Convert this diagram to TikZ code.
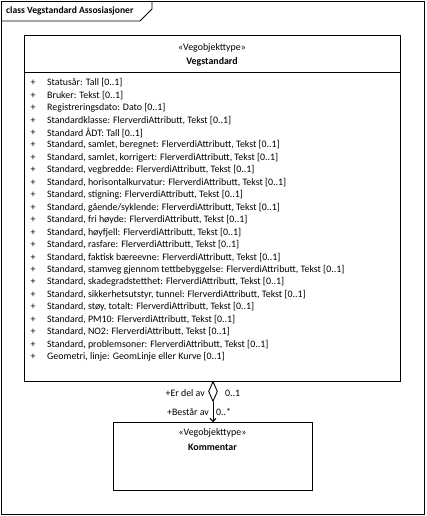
\documentclass[tikz,border=0pt]{standalone}
\usepackage{fontspec}
\setmainfont{Carlito}
\usetikzlibrary{arrows.meta,shapes.geometric}
\begin{document}
\begin{tikzpicture}[x=1pt,y=-1pt,
  frameline/.style={line width=0.9pt},
  attr/.style={anchor=west,inner sep=0pt,font=\fontsize{9.9}{11}\selectfont},
  plus/.style={anchor=center,inner sep=0pt,font=\fontsize{9.9}{11}\selectfont},
  hdr/.style={anchor=center,inner sep=0pt,font=\fontsize{9.9}{11}\selectfont},
  lbl/.style={inner sep=0pt,font=\fontsize{9.9}{11}\selectfont},
  classbox/.style={draw,line width=0.9pt,fill=white}]
\useasboundingbox (0,0) rectangle (426,516);
% outer frame
\draw[frameline] (1.5,1.5) rectangle (424,514.5);
\draw[frameline] (1.5,21) -- (140,21) -- (152,9) -- (152,1.5);
\node[lbl,anchor=west,font=\fontsize{9.6}{11}\selectfont\bfseries] (title) at (6,11) {class Vegstandard Assosiasjoner};
% main class
\draw[classbox] (24.5,35) rectangle (400,381);
\draw[frameline] (24.5,72) -- (400,72);
\coordinate (mainbottom) at (213,381);
\node[hdr] (st1) at (212,48) {«Vegobjekttype»};
\node[hdr,font=\fontsize{9.9}{11}\selectfont\bfseries] (name1) at (212,62) {Vegstandard};
\foreach \i/\t in {
0/{Statusår: Tall [0..1]},
1/{Bruker: Tekst [0..1]},
2/{Registreringsdato: Dato [0..1]},
3/{Standardklasse: FlerverdiAttributt{,} Tekst [0..1]},
4/{Standard ÅDT: Tall [0..1]},
5/{Standard{,} samlet{,} beregnet: FlerverdiAttributt{,} Tekst [0..1]},
6/{Standard{,} samlet{,} korrigert: FlerverdiAttributt{,} Tekst [0..1]},
7/{Standard{,} vegbredde: FlerverdiAttributt{,} Tekst [0..1]},
8/{Standard{,} horisontalkurvatur: FlerverdiAttributt{,} Tekst [0..1]},
9/{Standard{,} stigning: FlerverdiAttributt{,} Tekst [0..1]},
10/{Standard{,} gående/syklende: FlerverdiAttributt{,} Tekst [0..1]},
11/{Standard{,} fri høyde: FlerverdiAttributt{,} Tekst [0..1]},
12/{Standard{,} høyfjell: FlerverdiAttributt{,} Tekst [0..1]},
13/{Standard{,} rasfare: FlerverdiAttributt{,} Tekst [0..1]},
14/{Standard{,} faktisk bæreevne: FlerverdiAttributt{,} Tekst [0..1]},
15/{Standard{,} stamveg gjennom tettbebyggelse: FlerverdiAttributt{,} Tekst [0..1]},
16/{Standard{,} skadegradstetthet: FlerverdiAttributt{,} Tekst [0..1]},
17/{Standard{,} sikkerhetsutstyr{,} tunnel: FlerverdiAttributt{,} Tekst [0..1]},
18/{Standard{,} støy{,} totalt: FlerverdiAttributt{,} Tekst [0..1]},
19/{Standard{,} PM10: FlerverdiAttributt{,} Tekst [0..1]},
20/{Standard{,} NO2: FlerverdiAttributt{,} Tekst [0..1]},
21/{Standard{,} problemsoner: FlerverdiAttributt{,} Tekst [0..1]},
22/{Geometri{,} linje: GeomLinje eller Kurve [0..1]}}
{
  \node[plus] (p\i) at (33,83+12.45*\i) {+};
  \node[attr] (a\i) at (47,83+12.45*\i) {\t};
}
% Kommentar class
\draw[classbox] (113,422) rectangle (312,490);
\node[hdr] (st2) at (212.5,433) {«Vegobjekttype»};
\node[hdr,font=\fontsize{9.9}{11}\selectfont\bfseries] (name2) at (212.5,447) {Kommentar};
\coordinate (komtop) at (213,422);
% association
\node[draw,diamond,line width=0.9pt,fill=white,inner sep=0pt,minimum width=9pt,minimum height=20pt,anchor=north] (dia) at (mainbottom) {};
\draw[line width=0.9pt,-{Straight Barb[length=3pt,width=6pt]}] (dia.south) -- (komtop);
\node[lbl,anchor=east] (l1) at (205,393) {+Er del av};
\node[lbl,anchor=west] (m1) at (225,393) {0..1};
\node[lbl,anchor=east] (l2) at (209,412) {+Består av};
\node[lbl,anchor=west] (m2) at (216,412) {0..*};
\end{tikzpicture}
\end{document}
